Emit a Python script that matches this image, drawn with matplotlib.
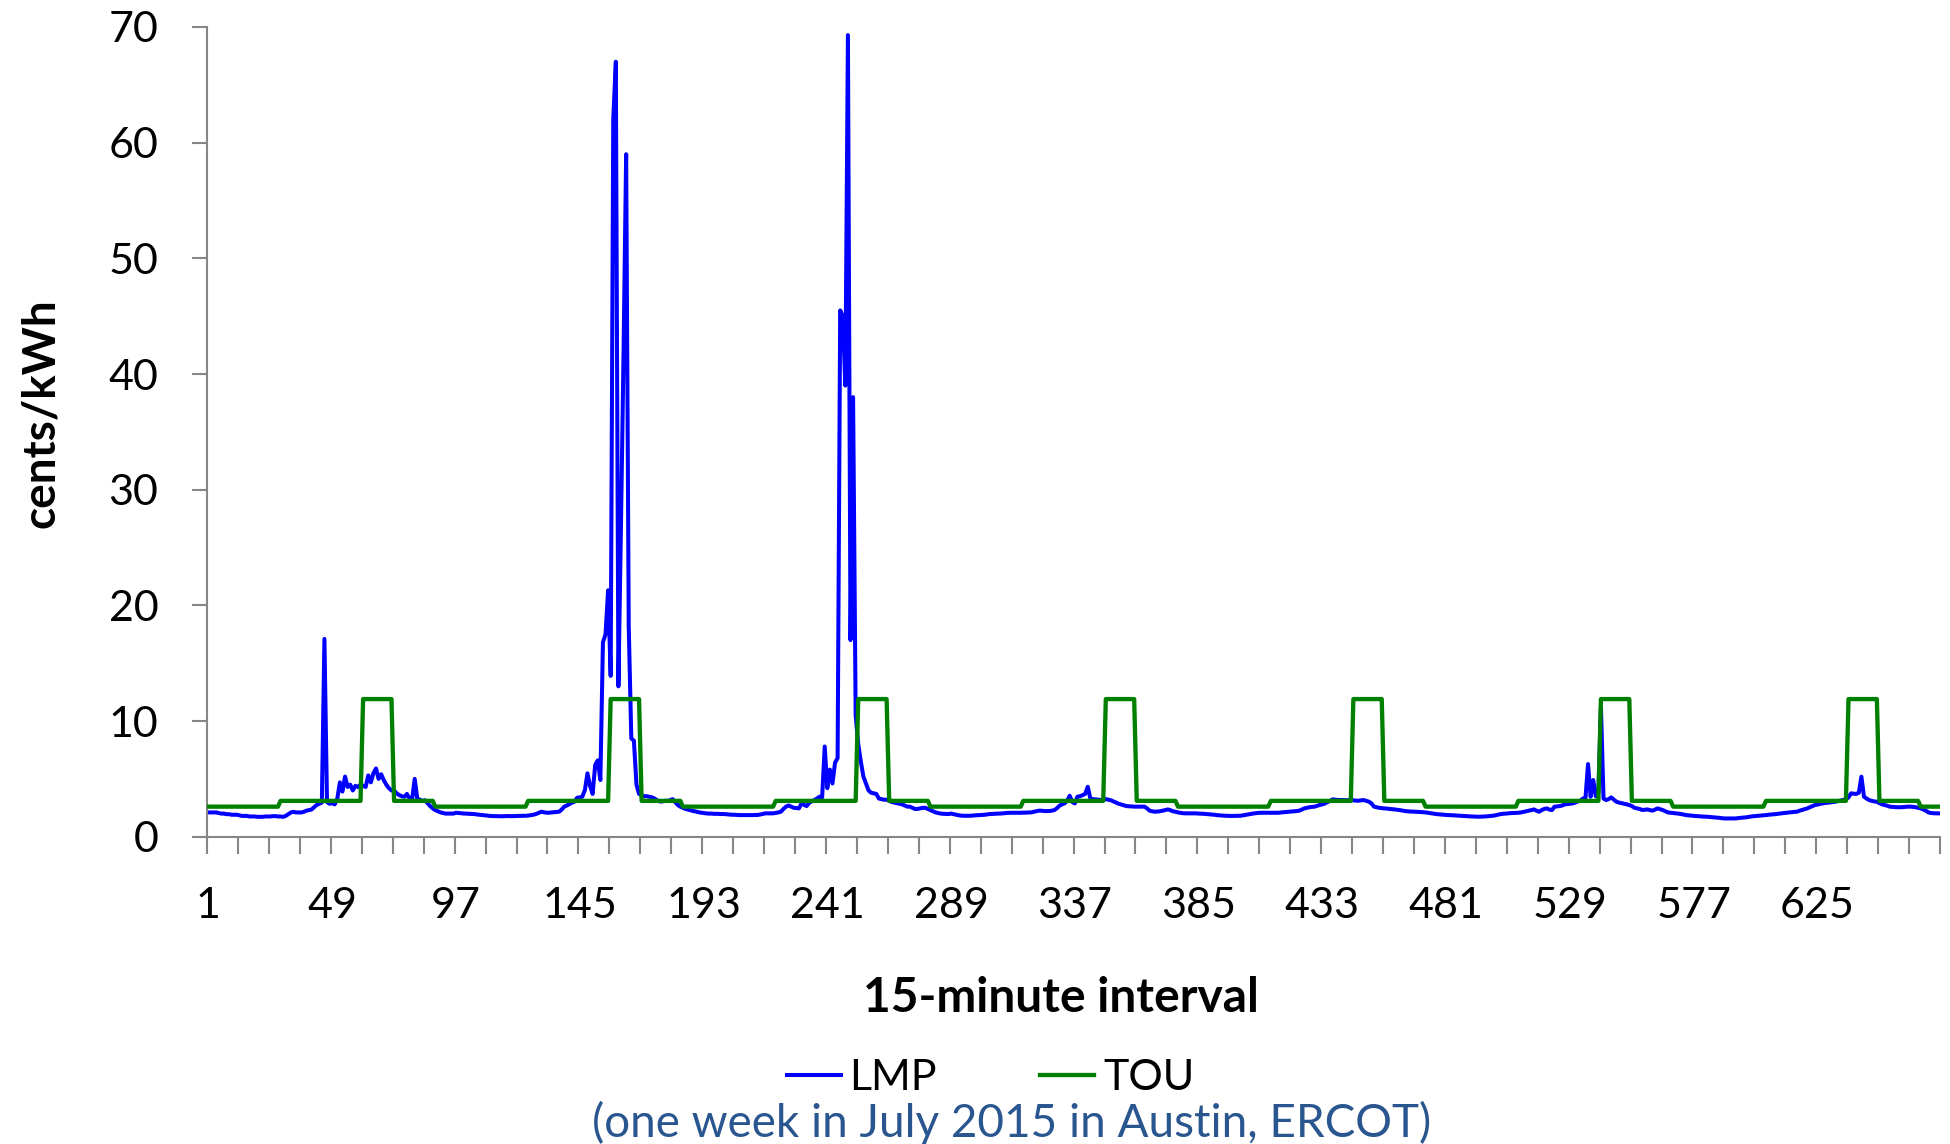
import numpy as np
import matplotlib
matplotlib.use("Agg")
import matplotlib.pyplot as plt

plt.rcParams['font.family'] = ['Lato', 'DejaVu Sans']

# LMP, cents/kWh, one value per 15-minute interval (96 per day)
lmp_day1 = [2.1, 2.1, 2.1, 2.1, 2.05, 2.0, 2.0, 1.95, 1.95, 1.9, 1.9, 1.9,
            1.85, 1.8, 1.8, 1.8, 1.75, 1.75, 1.75, 1.72, 1.72, 1.72, 1.75, 1.75,
            1.75, 1.78, 1.78, 1.75, 1.75, 1.72, 1.8, 1.95, 2.1, 2.15, 2.1, 2.1,
            2.1, 2.15, 2.25, 2.3, 2.35, 2.55, 2.75, 2.85, 2.95, 17.1, 3.0, 2.85,
            2.9, 2.8, 3.3, 4.7, 3.9, 5.2, 4.3, 4.5, 4.0, 4.4, 4.3, 4.5,
            4.4, 4.3, 5.3, 4.7, 5.5, 5.9, 5.0, 5.4, 4.9, 4.5, 4.2, 4.0,
            4.0, 3.75, 3.6, 3.5, 3.45, 3.7, 3.3, 3.2, 5.0, 3.3, 3.2, 3.1,
            3.15, 2.9, 2.65, 2.45, 2.3, 2.2, 2.1, 2.05, 2.0, 2.0, 2.0, 2.0]
lmp_day2 = [2.07, 2.05, 2.03, 2.0, 2.0, 1.98, 1.97, 1.96, 1.93, 1.9, 1.88, 1.85,
            1.83, 1.8, 1.79, 1.78, 1.78, 1.77, 1.77, 1.78, 1.79, 1.78, 1.78, 1.79,
            1.8, 1.8, 1.81, 1.81, 1.83, 1.86, 1.9, 1.96, 2.05, 2.16, 2.12, 2.08,
            2.07, 2.1, 2.12, 2.14, 2.16, 2.35, 2.6, 2.7, 2.83, 2.95, 3.03, 3.37,
            3.4, 3.46, 4.03, 5.48, 4.4, 3.7, 6.2, 6.6, 4.9, 16.8, 17.5, 21.3,
            13.9, 62.0, 67.0, 13.0, 27.0, 42.0, 59.0, 18.2, 8.5, 8.3, 4.5, 3.7,
            3.6, 3.5, 3.5, 3.45, 3.4, 3.3, 3.15, 3.05, 3.05, 3.1, 3.1, 3.15,
            3.25, 3.0, 2.75, 2.6, 2.5, 2.4, 2.35, 2.28, 2.22, 2.18, 2.12, 2.08]
lmp_day3 = [2.05, 2.02, 2.0, 2.0, 1.98, 1.98, 1.97, 1.96, 1.96, 1.94, 1.92, 1.9,
            1.9, 1.88, 1.87, 1.87, 1.87, 1.87, 1.87, 1.87, 1.88, 1.88, 1.92, 1.97,
            2.02, 2.02, 2.02, 2.02, 2.06, 2.1, 2.16, 2.4, 2.6, 2.7, 2.6, 2.5,
            2.48, 2.45, 2.88, 2.75, 2.65, 2.94, 3.05, 3.17, 3.3, 3.46, 3.4, 7.8,
            4.2, 5.8, 4.6, 6.4, 6.8, 45.5, 45.0, 39.0, 69.3, 17.0, 38.0, 10.5,
            8.0, 6.5, 5.2, 4.6, 4.0, 3.8, 3.75, 3.7, 3.3, 3.25, 3.2, 3.2,
            3.1, 3.0, 2.95, 2.9, 2.85, 2.8, 2.7, 2.6, 2.6, 2.5, 2.4, 2.4,
            2.45, 2.5, 2.5, 2.4, 2.3, 2.2, 2.1, 2.05, 2.0, 1.98, 1.97, 1.96]
lmp_day4 = [2.0, 1.95, 1.9, 1.85, 1.82, 1.81, 1.81, 1.81, 1.82, 1.84, 1.86, 1.87,
            1.88, 1.9, 1.93, 1.96, 1.97, 1.98, 2.0, 2.0, 2.02, 2.04, 2.06, 2.07,
            2.07, 2.07, 2.07, 2.07, 2.08, 2.08, 2.1, 2.1, 2.15, 2.2, 2.25, 2.25,
            2.22, 2.22, 2.22, 2.25, 2.3, 2.45, 2.68, 2.8, 2.88, 3.1, 3.54, 3.0,
            2.88, 3.46, 3.5, 3.6, 3.7, 4.32, 3.3, 3.25, 3.23, 3.2, 3.18, 3.17,
            3.25, 3.2, 3.15, 3.05, 2.94, 2.85, 2.78, 2.7, 2.65, 2.63, 2.62, 2.6,
            2.6, 2.6, 2.6, 2.6, 2.45, 2.25, 2.2, 2.16, 2.18, 2.2, 2.25, 2.3,
            2.36, 2.3, 2.2, 2.16, 2.1, 2.06, 2.03, 2.02, 2.02, 2.02, 2.02, 2.02]
lmp_day5 = [2.0, 1.99, 1.98, 1.96, 1.94, 1.92, 1.9, 1.87, 1.85, 1.83, 1.82, 1.81,
            1.8, 1.8, 1.8, 1.81, 1.81, 1.84, 1.88, 1.92, 1.96, 2.0, 2.03, 2.06,
            2.07, 2.07, 2.07, 2.07, 2.07, 2.07, 2.07, 2.07, 2.1, 2.12, 2.14, 2.16,
            2.18, 2.2, 2.22, 2.25, 2.35, 2.45, 2.5, 2.55, 2.58, 2.6, 2.68, 2.75,
            2.8, 2.88, 3.0, 3.1, 3.23, 3.2, 3.18, 3.17, 3.17, 3.15, 3.17, 3.17,
            3.15, 3.12, 3.11, 3.15, 3.17, 3.1, 3.03, 2.88, 2.6, 2.55, 2.5, 2.47,
            2.45, 2.43, 2.4, 2.38, 2.36, 2.33, 2.3, 2.26, 2.22, 2.2, 2.18, 2.17,
            2.16, 2.15, 2.13, 2.12, 2.1, 2.07, 2.03, 2.0, 1.96, 1.94, 1.92, 1.9]
lmp_day6 = [1.88, 1.87, 1.86, 1.85, 1.83, 1.82, 1.8, 1.79, 1.78, 1.76, 1.75, 1.74,
            1.73, 1.73, 1.74, 1.75, 1.77, 1.79, 1.81, 1.85, 1.9, 1.95, 1.98, 2.0,
            2.02, 2.04, 2.05, 2.06, 2.07, 2.1, 2.15, 2.2, 2.25, 2.3, 2.36, 2.25,
            2.16, 2.3, 2.4, 2.45, 2.35, 2.3, 2.6, 2.62, 2.65, 2.7, 2.8, 2.82,
            2.85, 2.88, 2.95, 3.05, 3.1, 3.3, 3.35, 6.28, 3.46, 4.9, 3.5, 3.8,
            11.2, 3.3, 3.17, 3.25, 3.4, 3.2, 3.03, 2.95, 2.9, 2.85, 2.8, 2.74,
            2.65, 2.5, 2.45, 2.4, 2.31, 2.33, 2.36, 2.3, 2.25, 2.35, 2.45, 2.38,
            2.3, 2.2, 2.1, 2.07, 2.05, 2.02, 2.0, 1.96, 1.92, 1.87, 1.85, 1.83]
lmp_day7 = [1.8, 1.79, 1.77, 1.75, 1.74, 1.73, 1.71, 1.69, 1.67, 1.65, 1.63, 1.6,
            1.58, 1.58, 1.58, 1.58, 1.58, 1.6, 1.63, 1.65, 1.67, 1.7, 1.74, 1.77,
            1.79, 1.81, 1.83, 1.85, 1.87, 1.9, 1.92, 1.94, 1.96, 1.99, 2.02, 2.05,
            2.07, 2.1, 2.12, 2.15, 2.16, 2.25, 2.32, 2.4, 2.45, 2.55, 2.65, 2.74,
            2.78, 2.84, 2.88, 2.92, 2.94, 2.97, 3.0, 3.03, 3.08, 3.13, 3.18, 3.23,
            3.4, 3.75, 3.72, 3.7, 3.8, 5.19, 3.46, 3.3, 3.17, 3.1, 3.05, 3.03,
            2.9, 2.8, 2.74, 2.68, 2.6, 2.58, 2.56, 2.55, 2.55, 2.56, 2.58, 2.6,
            2.6, 2.58, 2.55, 2.5, 2.45, 2.35, 2.25, 2.1, 2.05, 2.03, 2.02, 2.02]

# TOU tariff: daily periods (hours) and their rates, same every day of the week
tou_period_hours = [7, 8, 3, 4, 2]
tou_period_rates = [2.6, 3.1, 11.9, 3.1, 2.6]
n_days = 7

x_labels = [str(v) for v in range(1, 673, 48)]

lmp = np.concatenate([lmp_day1, lmp_day2, lmp_day3, lmp_day4,
                      lmp_day5, lmp_day6, lmp_day7])
tou_day = np.repeat(tou_period_rates, np.array(tou_period_hours) * 4)
tou = np.tile(tou_day, n_days)
x = np.arange(1, len(lmp) + 1)

fig = plt.figure(figsize=(19.5, 11.44), dpi=100)
ax = fig.add_axes([0.1062, 0.2686, 0.8887, 0.7078])

ax.plot(x, lmp, color='#0000FF', lw=2.9, label='LMP', zorder=2)
ax.plot(x, tou, color='#008000', lw=3.1, label='TOU', zorder=3)

grey = '#868686'
ax.set_xlim(0.5, 672.5)
ax.set_ylim(0, 70)
for s in ['top', 'right']:
    ax.spines[s].set_visible(False)
for s in ['left', 'bottom']:
    ax.spines[s].set_color(grey)
    ax.spines[s].set_linewidth(1.5)

ax.set_yticks(range(0, 71, 10))
ax.tick_params(axis='y', direction='out', length=11, width=1.5, color=grey,
               labelsize=31, pad=24)
ax.set_xticks([int(v) for v in x_labels])
ax.set_xticklabels(x_labels)
ax.tick_params(axis='x', which='major', length=0, labelsize=31, pad=36)
ax.set_xticks(np.arange(0.5, 673, 12), minor=True)
ax.tick_params(axis='x', which='minor', direction='out', length=12, width=1.5,
               color=grey)

fig.text(0.021, 0.639, 'cents/kWh', rotation=90, ha='center', va='center',
         fontsize=33, fontweight='bold')
fig.text(0.544, 0.128, '15-minute interval', ha='center', va='center',
         fontsize=34.5, fontweight='bold')

fig.legend(loc='center', bbox_to_anchor=(0.508, 0.058), ncol=2, frameon=False,
           fontsize=31, handlelength=1.25, handletextpad=0.2, columnspacing=2.4,
           borderpad=0)
fig.text(0.519, 0.018, '(one week in July 2015 in Austin, ERCOT)',
         ha='center', va='center', fontsize=33, color='#2A5690')

fig.savefig('out.png', dpi=100)
